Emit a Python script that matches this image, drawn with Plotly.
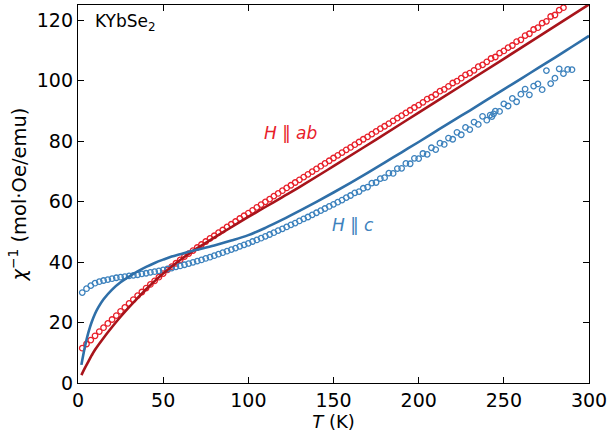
import plotly.graph_objects as go

# ---------------- data ----------------
T_ab = [2.5, 5, 7.5, 10, 12.5, 15, 17.5, 20, 22.5, 25, 27.5, 30, 32.5, 35, 37.5, 40,
        42.5, 45, 47.5, 50, 52.5, 55, 57.5, 60, 62.5, 65, 67.5, 70, 72.5, 75, 77.5, 80,
        82.5, 85, 87.5, 90, 92.5, 95, 97.5, 100, 102.5, 105, 107.5, 110, 112.5, 115, 117.5, 120,
        122.5, 125, 127.5, 130, 132.5, 135, 137.5, 140, 142.5, 145, 147.5, 150, 152.5, 155, 157.5, 160,
        162.5, 165, 167.5, 170, 172.5, 175, 177.5, 180, 182.5, 185, 187.5, 190, 192.5, 195, 197.5, 200,
        202.5, 205, 207.5, 210, 212.5, 215, 217.5, 220, 222.5, 225, 227.5, 230, 232.5, 235, 237.5, 240,
        242.5, 245, 247.5, 250, 252.5, 255, 257.5, 260, 262.5, 265, 267.5, 270, 272.5, 275, 277.5, 280,
        282.5, 285]
chi_ab = [11.5, 12.9, 14.2, 15.6, 17.0, 18.3, 19.7, 21.0, 22.3, 23.7, 25.0, 26.3, 27.6, 28.9, 30.1, 31.4,
          32.6, 33.8, 35.0, 36.2, 37.4, 38.5, 39.6, 40.7, 41.8, 42.8, 43.8, 44.8, 45.8, 46.8, 47.8, 48.7,
          49.7, 50.6, 51.6, 52.5, 53.4, 54.4, 55.3, 56.2, 57.1, 58.1, 59.0, 59.9, 60.8, 61.8, 62.7, 63.6,
          64.5, 65.4, 66.3, 67.2, 68.1, 69.0, 69.9, 70.8, 71.7, 72.6, 73.5, 74.4, 75.3, 76.2, 77.1, 77.9,
          78.8, 79.7, 80.6, 81.4, 82.3, 83.2, 84.1, 84.9, 85.8, 86.7, 87.6, 88.4, 89.3, 90.2, 91.1, 91.9,
          92.8, 93.9, 94.5, 95.4, 96.5, 97.1, 98.1, 99.2, 99.8, 100.8, 101.9, 102.5, 103.4, 104.6, 105.2, 106.2,
          107.3, 107.8, 109.1, 109.8, 110.9, 111.6, 112.9, 113.5, 114.9, 115.5, 116.9, 117.5, 119.0, 119.6, 121.2, 121.7,
          123.3, 124.1]

T_c = [2.5, 5, 7.5, 10, 12.5, 15, 17.5, 20, 22.5, 25, 27.5, 30, 32.5, 35, 37.5, 40,
       42.5, 45, 47.5, 50, 52.5, 55, 57.5, 60, 62.5, 65, 67.5, 70, 72.5, 75, 77.5, 80,
       82.5, 85, 87.5, 90, 92.5, 95, 97.5, 100, 102.5, 105, 107.5, 110, 112.5, 115, 117.5, 120,
       122.5, 125, 127.5, 130, 132.5, 135, 137.5, 140, 142.5, 145, 147.5, 150, 152.5, 155, 157.5, 160,
       162.5, 165, 167.5, 170, 172.5, 175, 177.5, 180, 182.5, 185, 187.5, 190, 192.5, 195, 197.5, 200,
       202.5, 205, 207.5, 210, 212.5, 215, 217.5, 220, 222.5, 225, 227.5, 230, 232.5, 235, 237.5, 240,
       242.0, 243.0, 244.0, 245, 247.5, 250, 252.5, 255, 257.5, 260, 262.5, 265, 267.5, 270, 272.5, 275,
       277.5, 280, 282.5, 285, 287.5, 290]
chi_c = [29.9, 31.2, 32.2, 33.0, 33.5, 33.9, 34.2, 34.5, 34.8, 35.0, 35.2, 35.4, 35.6, 35.8, 36.1, 36.3,
         36.6, 36.8, 37.1, 37.4, 37.7, 38.0, 38.4, 38.7, 39.1, 39.5, 39.9, 40.3, 40.7, 41.2, 41.6, 42.1,
         42.6, 43.1, 43.6, 44.1, 44.6, 45.2, 45.7, 46.2, 46.8, 47.3, 47.9, 48.5, 49.1, 49.7, 50.4, 51.0,
         51.6, 52.3, 52.9, 53.6, 54.3, 54.9, 55.6, 56.3, 57.0, 57.7, 58.4, 59.1, 59.8, 60.5, 61.3, 62.0,
         62.9, 63.3, 64.4, 64.8, 66.1, 66.3, 67.6, 67.9, 69.4, 69.3, 70.9, 71.0, 72.6, 72.5, 74.3, 74.2,
         75.9, 75.6, 77.8, 77.2, 79.3, 78.9, 81.0, 80.6, 82.9, 82.1, 84.5, 83.8, 86.3, 85.5, 88.2, 86.9,
         88.6, 88.1, 89.0, 89.9, 89.8, 92.3, 91.6, 94.1, 93.0, 95.5, 97.2, 95.3, 98.2, 98.9, 97.0, 103.3,
         99.0, 100.8, 103.9, 102.3, 103.7, 103.6]

T_fit_ab = [2, 4, 6, 8, 10, 15, 20, 25, 30, 35, 40, 45, 50, 55, 60, 65, 70, 80, 90, 100,
            110, 120, 130, 150, 175, 200, 225, 250, 275, 300]
chi_fit_ab = [2.6, 4.9, 7.0, 9.1, 11.0, 14.9, 18.5, 21.9, 25.1, 28.1, 31.0, 33.7, 36.2, 38.5, 40.7,
              42.7, 44.6, 48.1, 51.5, 54.9, 58.2, 61.5, 64.8, 71.7, 80.5, 89.4, 98.3, 107.2, 116.2, 125.2]

T_fit_c = [2, 3, 4, 5, 6, 7, 8, 10, 12, 15, 20, 25, 30, 35, 40, 45, 50, 55, 60, 65, 70, 80, 90,
           100, 110, 120, 130, 140, 150, 160, 170, 180, 190, 200, 210, 220, 230, 240, 250, 260,
           270, 280, 290, 300]
chi_fit_c = [6.0, 9.0, 11.8, 14.3, 16.5, 18.4, 20.1, 22.9, 25.1, 27.7, 30.9, 33.3, 35.2, 36.9, 38.4, 39.7,
             40.8, 41.8, 42.6, 43.4, 44.1, 45.5, 47.1, 48.9, 51.3, 54.0, 56.9, 59.9, 63.0, 66.2, 69.5,
             72.9, 76.3, 79.7, 83.2, 86.7, 90.1, 93.6, 97.1, 100.6, 104.1, 107.6, 111.2, 114.8]

x_ticks = [0, 50, 100, 150, 200, 250, 300]
y_ticks = [0, 20, 40, 60, 80, 100, 120]

RED = "#e8202a"
RED_DARK = "#a8141b"
BLUE = "#3d82bd"
BLUE_DARK = "#2f6fa8"
FONT = "DejaVu Sans"

fig = go.Figure()
fig.add_trace(go.Scatter(x=T_ab, y=chi_ab, mode="markers",
                         marker=dict(symbol="circle-open", size=5.5, color=RED, line=dict(width=1.3, color=RED)),
                         showlegend=False))
fig.add_trace(go.Scatter(x=T_c, y=chi_c, mode="markers",
                         marker=dict(symbol="circle-open", size=5.5, color=BLUE, line=dict(width=1.3, color=BLUE)),
                         showlegend=False))
fig.add_trace(go.Scatter(x=T_fit_ab, y=chi_fit_ab, mode="lines", line=dict(color=RED_DARK, width=2.6, shape="spline"),
                         showlegend=False))
fig.add_trace(go.Scatter(x=T_fit_c, y=chi_fit_c, mode="lines", line=dict(color=BLUE_DARK, width=2.6, shape="spline"),
                         showlegend=False))

axis_common = dict(showgrid=False, zeroline=False, showline=True, linecolor="black", linewidth=1.3,
                   mirror="allticks", ticks="inside", ticklen=6, tickwidth=1.2, tickcolor="black",
                   tickfont=dict(family=FONT, size=19, color="black"))

fig.update_xaxes(range=[0, 300], tickvals=x_ticks, ticktext=[str(v) for v in x_ticks],
                 title=dict(text="<i>T</i> (K)", font=dict(family=FONT, size=18, color="black"), standoff=3),
                 **axis_common)
fig.update_yaxes(range=[0, 125], tickvals=y_ticks, ticktext=[str(v) for v in y_ticks],
                 title=dict(text="<i>χ</i><sup>−1</sup> (mol·Oe/emu)", font=dict(family=FONT, size=19.5, color="black"),
                            standoff=4),
                 **axis_common)

fig.add_annotation(x=0.03, y=0.99, xref="paper", yref="paper", xanchor="left", yanchor="top",
                   text="KYbSe<sub>2</sub>", showarrow=False, font=dict(family=FONT, size=17, color="black"))
fig.add_annotation(x=125, y=82.8, xref="x", yref="y", xanchor="center", yanchor="middle",
                   text="<i>H</i> ‖ <i>ab</i>", showarrow=False, font=dict(family=FONT, size=17, color=RED))
fig.add_annotation(x=161.5, y=52.3, xref="x", yref="y", xanchor="center", yanchor="middle",
                   text="<i>H</i> ‖ <i>c</i>", showarrow=False, font=dict(family=FONT, size=17, color=BLUE))

fig.update_layout(width=611, height=438, margin=dict(l=78, r=19, t=4, b=55),
                  plot_bgcolor="white", paper_bgcolor="white",
                  font=dict(family=FONT, color="black"))

fig.write_html("out.html", config={"displayModeBar": False},
               post_script="document.body.style.margin='0';")
